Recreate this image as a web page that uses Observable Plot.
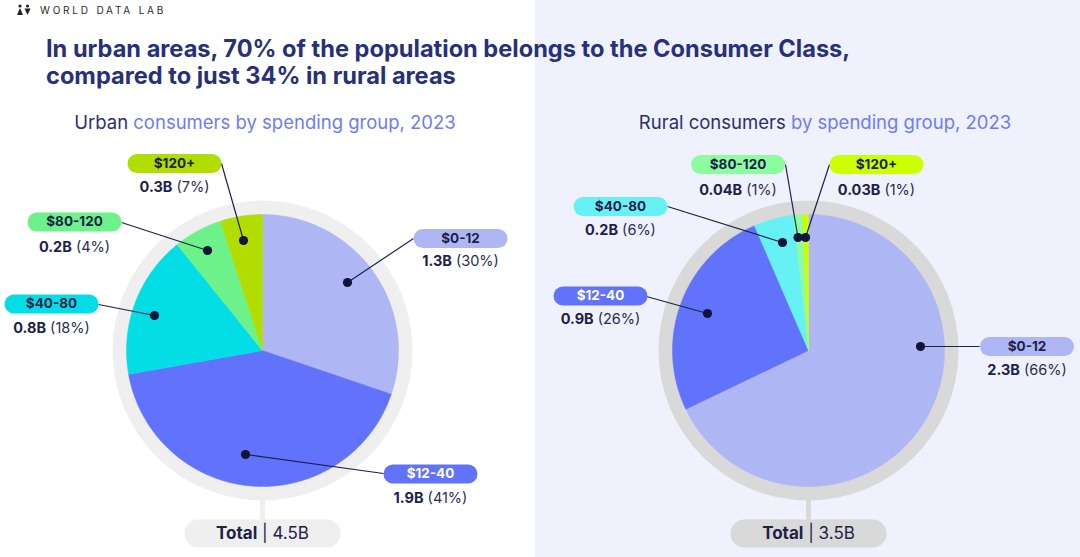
<!DOCTYPE html>
<html><head><meta charset="utf-8">
<script src="https://cdn.jsdelivr.net/npm/d3@7"></script>
<script src="https://cdn.jsdelivr.net/npm/@observablehq/plot@0.6"></script>
<style>
html,body{margin:0;padding:0;}
body{width:1080px;height:557px;overflow:hidden;font-family:Inter,"Noto Sans",sans-serif;}
#wrap{position:relative;width:1080px;height:557px;background:linear-gradient(to right,#ffffff 0,#ffffff 535px,#EFF1FD 535px,#EFF1FD 100%);}
#chart{position:absolute;left:0;top:0;}
#logoicon{position:absolute;left:17px;top:4px;}
.logotext{position:absolute;left:40px;top:4px;font-size:10px;letter-spacing:2.8px;color:#2b2b2b;white-space:nowrap;}
.title{position:absolute;left:46px;top:34.5px;font-weight:700;font-size:23.6px;line-height:27px;color:#27307A;white-space:nowrap;}
.sub{position:absolute;top:110.5px;font-size:18.5px;transform:translateX(-50%);white-space:nowrap;color:#6F7BF7;}
.sub span{color:#2C2F6E;}
</style>
</head><body>
<div id="wrap">
  <svg id="logoicon" width="14" height="12" viewBox="0 0 14 12">
    <circle cx="3" cy="2" r="1.6" fill="#222"/>
    <path d="M3 4 L6 11 L0 11 Z" fill="#222"/>
    <circle cx="10.5" cy="2" r="1.6" fill="#222"/>
    <path d="M7.5 4.5 L13.5 4.5 L10.5 11 Z" fill="#222"/>
  </svg>
  <div class="logotext">WORLD DATA LAB</div>
  <div class="title">In urban areas, 70% of the population belongs to the Consumer Class,<br>compared to just 34% in rural areas</div>
  <div class="sub" style="left:265px"><span>Urban</span> consumers by spending group, 2023</div>
  <div class="sub" style="left:825px"><span>Rural consumers</span> by spending group, 2023</div>
  <div id="chart"></div>
</div>
<script>
// ---------- data ----------
const groups = ["$0-12", "$12-40", "$40-80", "$80-120", "$120+"];
const urbanValues = ["1.3B", "1.9B", "0.8B", "0.2B", "0.3B"];
const urbanPct = ["30%", "41%", "18%", "4%", "7%"];
const urbanShares = [30.2, 42.0, 17.0, 5.8, 5.0];   // slice sizes as drawn
const ruralValues = ["2.3B", "0.9B", "0.2B", "0.04B", "0.03B"];
const ruralPct = ["66%", "26%", "6%", "1%", "1%"];
const ruralShares = [67.9, 25.6, 4.75, 1.05, 0.7];  // slice sizes as drawn
const totals = ["4.5B", "3.5B"];

// ---------- styles ----------
const urbanColors = ["#AEB6F4", "#6173FB", "#03DEE6", "#6CF18B", "#B1DD00"];
const ruralColors = ["#AEB6F4", "#6173FB", "#66F1F5", "#8CFC9F", "#CCFF00"];
const pillText = ["#1E2148", "#FFFFFF", "#1E2148", "#1E2148", "#1E2148"];
const ink = "#1E2148";

// ---------- layout (pixel positions) ----------
const W = 1080, H = 557;
const pies = [
  {cx: 262, cy: 350, ring: "#EFEFEF"},
  {cx: 808, cy: 350, ring: "#D9D9D9"}
];
const R = 136, RING = 150;
// per group: pill center, value baseline, dot, line start
const urbanLayout = [
  {px: 460, py: 238, vy: 266, dx: 347, dy: 282, sx: 413, sy: 238},
  {px: 430, py: 473.5, vy: 503, dx: 245, dy: 454, sx: 383, sy: 473},
  {px: 51, py: 303.5, vy: 333, dx: 154, dy: 315, sx: 98, sy: 304},
  {px: 74, py: 221.5, vy: 252, dx: 207, dy: 250, sx: 121, sy: 222},
  {px: 174, py: 163, vy: 192, dx: 243, dy: 240, sx: 221, sy: 163}
];
const ruralLayout = [
  {px: 1026.5, py: 346, vy: 375, dx: 920, dy: 346, sx: 979, sy: 346},
  {px: 600, py: 295.5, vy: 324, dx: 707, dy: 313, sx: 646, sy: 296},
  {px: 620, py: 206, vy: 235, dx: 782, dy: 242, sx: 667, sy: 206},
  {px: 737.5, py: 164, vy: 195, dx: 797.5, dy: 237, sx: 785, sy: 164},
  {px: 876, py: 164, vy: 195, dx: 805, dy: 237, sx: 829, sy: 164}
];
const pillHalf = 37.5, pillH = 19;
const totalY = 533, totalHalf = 64, totalH = 28, stemTop = 498, stemBottom = 520;

// ---------- helpers ----------
const ctx = document.createElement("canvas").getContext("2d");
function tw(text, weight, size) { ctx.font = `${weight} ${size}px Inter`; return ctx.measureText(text).width; }

function slicePoints(pie, shares, colors, name) {
  const arcs = d3.pie().sort(null).value(d => d)(shares);
  const pts = [];
  arcs.forEach((a, i) => {
    const id = name + i, color = colors[i];
    pts.push({x: pie.cx, y: pie.cy, id, color});
    const n = Math.max(2, Math.ceil((a.endAngle - a.startAngle) / (Math.PI / 360)));
    for (let k = 0; k <= n; k++) {
      const t = a.startAngle + (a.endAngle - a.startAngle) * k / n;
      pts.push({x: pie.cx + R * Math.sin(t), y: pie.cy - R * Math.cos(t), id, color});
    }
    pts.push({x: pie.cx, y: pie.cy, id, color});
  });
  return pts;
}

const VFS = 14.5;
function labelRows(layout, values, pct, colors) {
  return layout.map((l, i) => {
    const wb = tw(values[i], 700, VFS), ws = tw(" ", 400, VFS), wr = tw(`(${pct[i]})`, 400, VFS);
    const x0 = l.px - (wb + ws + wr) / 2;
    return {...l, group: groups[i], value: values[i], pct: `(${pct[i]})`, color: colors[i],
            tcolor: pillText[i], bx: x0, rx: x0 + wb + ws};
  });
}

const slices = [
  ...slicePoints(pies[0], urbanShares, urbanColors, "u"),
  ...slicePoints(pies[1], ruralShares, ruralColors, "r")
];
const labels = [
  ...labelRows(urbanLayout, urbanValues, urbanPct, urbanColors),
  ...labelRows(ruralLayout, ruralValues, ruralPct, ruralColors)
];
const totalRows = pies.map((p, i) => {
  const fs = 17;
  const b = "Total", r = `| ${totals[i]}`;
  const wb = tw(b, 700, fs), ws = tw(" ", 400, fs), wr = tw(r, 400, fs);
  const x0 = p.cx - (wb + ws + wr) / 2;
  return {...p, b, r, bx: x0, rx: x0 + wb + ws};
});

const chart = Plot.plot({
  width: W, height: H, margin: 0,
  x: {domain: [0, W], range: [0, W], axis: null},
  y: {domain: [0, H], range: [0, H], axis: null},
  style: {background: "transparent", fontFamily: "Inter"},
  marks: [
    // stems to total pills
    Plot.link(pies, {x1: "cx", x2: "cx", y1: () => stemTop, y2: () => stemBottom, stroke: "ring", strokeWidth: 5}),
    // outer ring
    Plot.dot(pies, {x: "cx", y: "cy", r: RING, fill: "ring", stroke: "none"}),
    // slices
    Plot.line(slices, {x: "x", y: "y", z: "id", fill: "color", stroke: "color", strokeWidth: 0.5, curve: "linear"}),
    // leader lines
    Plot.link(labels, {x1: "sx", y1: "sy", x2: "dx", y2: "dy", stroke: ink, strokeWidth: 1.2}),
    Plot.dot(labels, {x: "dx", y: "dy", r: 4.6, fill: "#12153A", stroke: "none"}),
    // pills
    Plot.link(labels, {x1: d => d.px - pillHalf, x2: d => d.px + pillHalf, y1: "py", y2: "py",
      stroke: "color", strokeWidth: pillH, strokeLinecap: "round"}),
    Plot.text(labels, {x: "px", y: "py", text: "group", fill: "tcolor", fontSize: 13.5, fontWeight: 700,
      lineAnchor: "middle", textAnchor: "middle"}),
    // values
    Plot.text(labels, {x: "bx", y: d => d.vy - 4.7, text: "value", fill: ink, fontSize: VFS, fontWeight: 700,
      lineAnchor: "middle", textAnchor: "start"}),
    Plot.text(labels, {x: "rx", y: d => d.vy - 4.7, text: "pct", fill: "#2A2D52", fontSize: VFS, fontWeight: 400,
      lineAnchor: "middle", textAnchor: "start"}),
    // total pills
    Plot.link(pies, {x1: d => d.cx - totalHalf, x2: d => d.cx + totalHalf, y1: () => totalY, y2: () => totalY,
      stroke: "ring", strokeWidth: totalH, strokeLinecap: "round"}),
    Plot.text(totalRows, {x: "bx", y: () => totalY, text: "b", fill: ink, fontSize: 17, fontWeight: 700,
      lineAnchor: "middle", textAnchor: "start"}),
    Plot.text(totalRows, {x: "rx", y: () => totalY, text: "r", fill: ink, fontSize: 17, fontWeight: 400,
      lineAnchor: "middle", textAnchor: "start"})
  ]
});
document.getElementById("chart").appendChild(chart);
</script>
</body></html>
